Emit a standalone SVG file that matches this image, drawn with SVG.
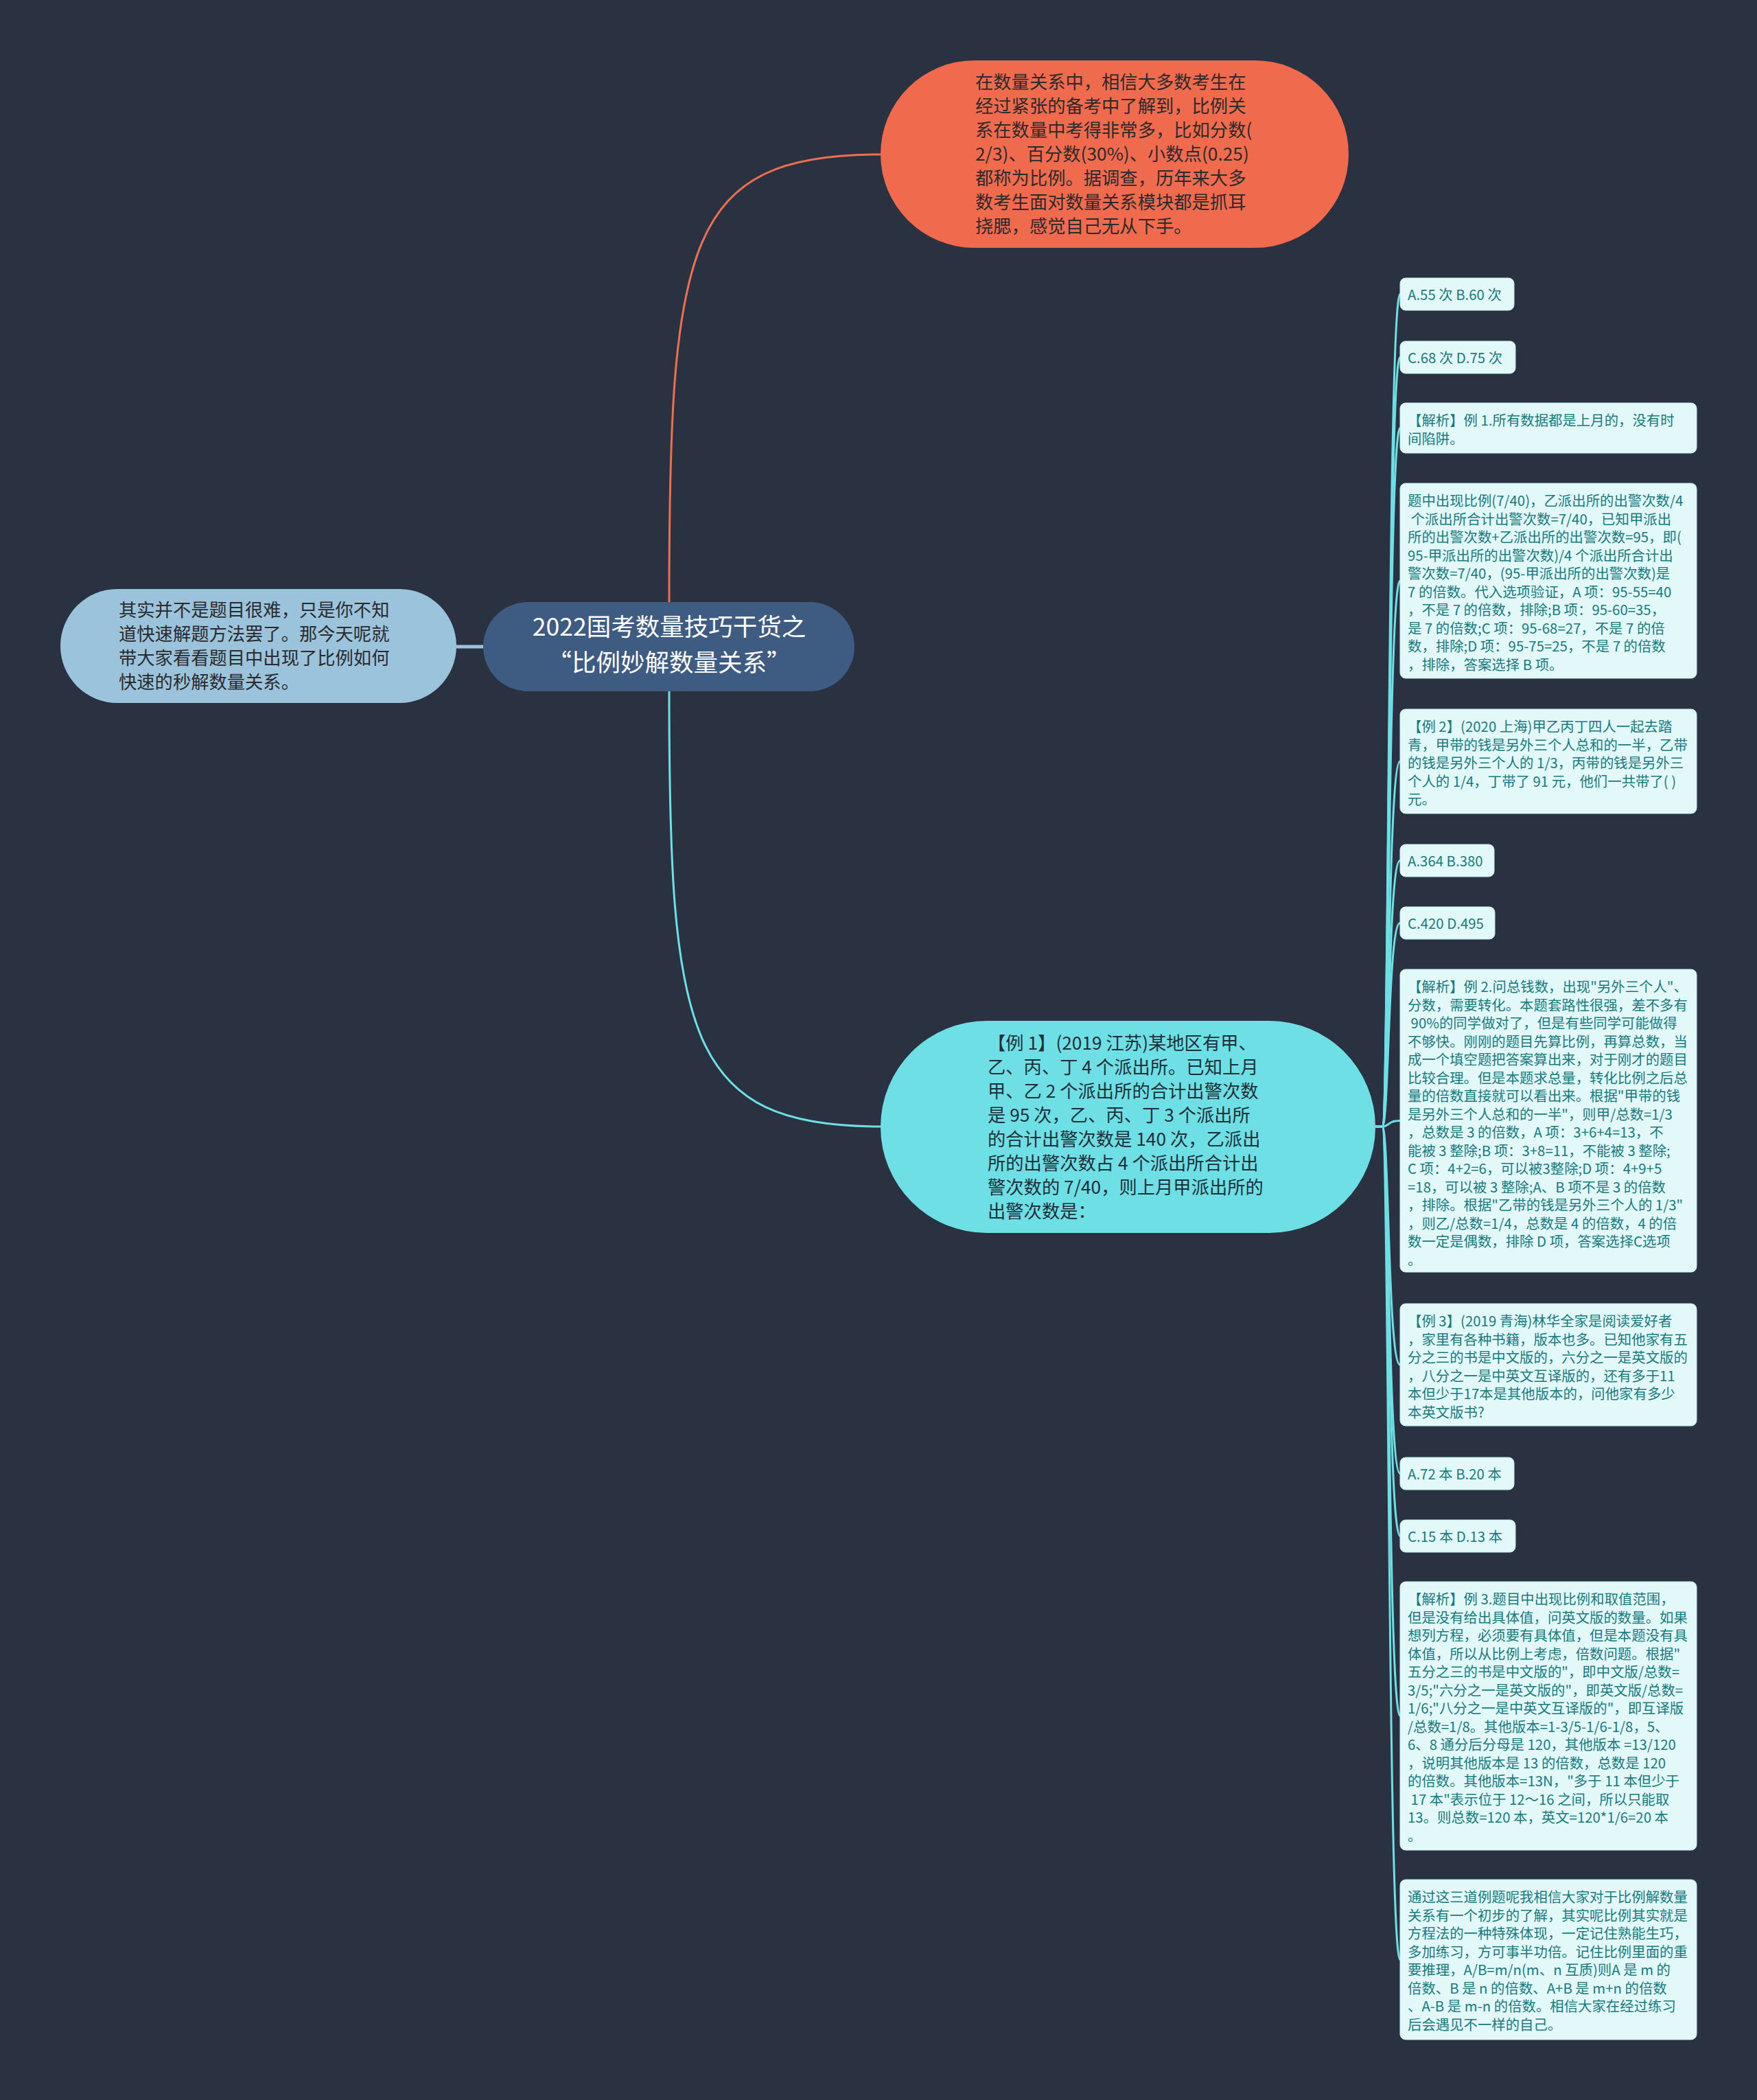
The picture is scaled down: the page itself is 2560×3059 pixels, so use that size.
<svg xmlns="http://www.w3.org/2000/svg" width="2560" height="3059" viewBox="0 0 2560 3059">
<style>
text{font-family:"Noto Sans CJK SC","Microsoft YaHei","Noto Sans",sans-serif}
.big{font-size:26.3px}
.dark{fill:#2b2a2c}
.leaf rect{fill:#e2f8f9;stroke:#c4eef1;stroke-width:1}
.leaf text{font-size:20.4px;fill:#177b7e}
.lk{fill:none;stroke:#6ddfe5;stroke-width:3}
</style>
<rect x="0" y="0" width="2560" height="3059" fill="#2a3241"/>
<g id="connectors">
<path d="M975,877 C975,350 1000,225 1283,225" fill="none" stroke="#ea7050" stroke-width="3"/>
<path d="M975,1007 C975,1510 1000,1641 1283,1641" fill="none" stroke="#6ddfe5" stroke-width="3"/>
<path d="M665,942 L704,942" fill="none" stroke="#9bc3dc" stroke-width="5"/>
<path class="lk" d="M2004,1641 L2014,1641 C2024,1641 2022,428.5 2040,428.5"/>
<path class="lk" d="M2004,1641 L2014,1641 C2024,1641 2022,520.5 2040,520.5"/>
<path class="lk" d="M2004,1641 L2014,1641 C2024,1641 2022,623.5 2040,623.5"/>
<path class="lk" d="M2004,1641 L2014,1641 C2024,1641 2022,846 2040,846"/>
<path class="lk" d="M2004,1641 L2014,1641 C2024,1641 2022,1109 2040,1109"/>
<path class="lk" d="M2004,1641 L2014,1641 C2024,1641 2022,1253.5 2040,1253.5"/>
<path class="lk" d="M2004,1641 L2014,1641 C2024,1641 2022,1344.5 2040,1344.5"/>
<path class="lk" d="M2004,1641 L2014,1641 C2024,1641 2022,1632.5 2040,1632.5"/>
<path class="lk" d="M2004,1641 L2014,1641 C2024,1641 2022,1988 2040,1988"/>
<path class="lk" d="M2004,1641 L2014,1641 C2024,1641 2022,2146.5 2040,2146.5"/>
<path class="lk" d="M2004,1641 L2014,1641 C2024,1641 2022,2237.5 2040,2237.5"/>
<path class="lk" d="M2004,1641 L2014,1641 C2024,1641 2022,2499.5 2040,2499.5"/>
<path class="lk" d="M2004,1641 L2014,1641 C2024,1641 2022,2854.5 2040,2854.5"/>
</g>
<g id="center">
<rect x="704" y="877" width="541" height="130" rx="65" fill="#3e5b82"/>
<text font-size="35.5" fill="#ffffff" text-anchor="middle"><tspan x="975" y="926">2022国考数量技巧干货之</tspan><tspan x="975" y="978">“比例妙解数量关系”</tspan></text>
</g>
<g id="intro">
<rect x="1283" y="88" width="682" height="273" rx="136.5" fill="#f06b4d"/>
<text class="big dark"><tspan x="1421" y="129">在数量关系中，相信大多数考生在</tspan><tspan x="1421" y="164">经过紧张的备考中了解到，比例关</tspan><tspan x="1421" y="199">系在数量中考得非常多，比如分数(</tspan><tspan x="1421" y="234">2/3)、百分数(30%)、小数点(0.25)</tspan><tspan x="1421" y="269">都称为比例。据调查，历年来大多</tspan><tspan x="1421" y="304">数考生面对数量关系模块都是抓耳</tspan><tspan x="1421" y="339">挠腮，感觉自己无从下手。</tspan></text>
</g>
<g id="left">
<rect x="88" y="858" width="577" height="166" rx="83" fill="#9bc3dc"/>
<text class="big dark"><tspan x="173" y="898">其实并不是题目很难，只是你不知</tspan><tspan x="173" y="933">道快速解题方法罢了。那今天呢就</tspan><tspan x="173" y="968">带大家看看题目中出现了比例如何</tspan><tspan x="173" y="1003">快速的秒解数量关系。</tspan></text>
</g>
<g id="example1">
<rect x="1283" y="1487" width="721" height="309" rx="154.5" fill="#6ddfe5"/>
<text class="big" fill="#1d2f38"><tspan x="1439" y="1529">【例 1】(2019 江苏)某地区有甲、</tspan><tspan x="1439" y="1564">乙、丙、丁 4 个派出所。已知上月</tspan><tspan x="1439" y="1599">甲、乙 2 个派出所的合计出警次数</tspan><tspan x="1439" y="1634">是 95 次，乙、丙、丁 3 个派出所</tspan><tspan x="1439" y="1669">的合计出警次数是 140 次，乙派出</tspan><tspan x="1439" y="1704">所的出警次数占 4 个派出所合计出</tspan><tspan x="1439" y="1739">警次数的 7/40，则上月甲派出所的</tspan><tspan x="1439" y="1774">出警次数是：</tspan></text>
</g>
<g id="leaf1" class="leaf">
<rect x="2040" y="405" width="166" height="47" rx="8"/>
<text x="2051" y="437">A.55 次 B.60 次</text>
</g>
<g id="leaf2" class="leaf">
<rect x="2040" y="497" width="168" height="47" rx="8"/>
<text x="2051" y="529">C.68 次 D.75 次</text>
</g>
<g id="leaf3" class="leaf">
<rect x="2040" y="587" width="432" height="73" rx="8"/>
<text><tspan x="2051" y="620">【解析】例 1.所有数据都是上月的，没有时</tspan><tspan x="2051" y="646.5">间陷阱。</tspan></text>
</g>
<g id="leaf4" class="leaf">
<rect x="2040" y="704" width="432" height="284" rx="8"/>
<text xml:space="preserve"><tspan x="2051" y="737">题中出现比例(7/40)，乙派出所的出警次数/4</tspan><tspan x="2051" y="763.5"> 个派出所合计出警次数=7/40，已知甲派出</tspan><tspan x="2051" y="790">所的出警次数+乙派出所的出警次数=95，即(</tspan><tspan x="2051" y="816.5">95-甲派出所的出警次数)/4 个派出所合计出</tspan><tspan x="2051" y="843">警次数=7/40，(95-甲派出所的出警次数)是</tspan><tspan x="2051" y="869.5">7 的倍数。代入选项验证，A 项：95-55=40</tspan><tspan x="2051" y="896">，不是 7 的倍数，排除;B 项：95-60=35，</tspan><tspan x="2051" y="922.5">是 7 的倍数;C 项：95-68=27，不是 7 的倍</tspan><tspan x="2051" y="949">数，排除;D 项：95-75=25，不是 7 的倍数</tspan><tspan x="2051" y="975.5">，排除，答案选择 B 项。</tspan></text>
</g>
<g id="leaf5" class="leaf">
<rect x="2040" y="1033" width="432" height="152" rx="8"/>
<text><tspan x="2051" y="1066">【例 2】(2020 上海)甲乙丙丁四人一起去踏</tspan><tspan x="2051" y="1092.5">青，甲带的钱是另外三个人总和的一半，乙带</tspan><tspan x="2051" y="1119">的钱是另外三个人的 1/3，丙带的钱是另外三</tspan><tspan x="2051" y="1145.5">个人的 1/4，丁带了 91 元，他们一共带了( )</tspan><tspan x="2051" y="1172">元。</tspan></text>
</g>
<g id="leaf6" class="leaf">
<rect x="2040" y="1230" width="137" height="47" rx="8"/>
<text x="2051" y="1262">A.364 B.380</text>
</g>
<g id="leaf7" class="leaf">
<rect x="2040" y="1321" width="138" height="47" rx="8"/>
<text x="2051" y="1353">C.420 D.495</text>
</g>
<g id="leaf8" class="leaf">
<rect x="2040" y="1412" width="432" height="441" rx="8"/>
<text xml:space="preserve"><tspan x="2051" y="1445">【解析】例 2.问总钱数，出现"另外三个人"、</tspan><tspan x="2051" y="1471.5">分数，需要转化。本题套路性很强，差不多有</tspan><tspan x="2051" y="1498"> 90%的同学做对了，但是有些同学可能做得</tspan><tspan x="2051" y="1524.5">不够快。刚刚的题目先算比例，再算总数，当</tspan><tspan x="2051" y="1551">成一个填空题把答案算出来，对于刚才的题目</tspan><tspan x="2051" y="1577.5">比较合理。但是本题求总量，转化比例之后总</tspan><tspan x="2051" y="1604">量的倍数直接就可以看出来。根据"甲带的钱</tspan><tspan x="2051" y="1630.5">是另外三个人总和的一半"，则甲/总数=1/3</tspan><tspan x="2051" y="1657">，总数是 3 的倍数，A 项：3+6+4=13，不</tspan><tspan x="2051" y="1683.5">能被 3 整除;B 项：3+8=11，不能被 3 整除;</tspan><tspan x="2051" y="1710">C 项：4+2=6，可以被3整除;D 项：4+9+5</tspan><tspan x="2051" y="1736.5">=18，可以被 3 整除;A、B 项不是 3 的倍数</tspan><tspan x="2051" y="1763">，排除。根据"乙带的钱是另外三个人的 1/3"</tspan><tspan x="2051" y="1789.5">，则乙/总数=1/4，总数是 4 的倍数，4 的倍</tspan><tspan x="2051" y="1816">数一定是偶数，排除 D 项，答案选择C选项</tspan><tspan x="2051" y="1842.5">。</tspan></text>
</g>
<g id="leaf9" class="leaf">
<rect x="2040" y="1899" width="432" height="178" rx="8"/>
<text><tspan x="2051" y="1932">【例 3】(2019 青海)林华全家是阅读爱好者</tspan><tspan x="2051" y="1958.5">，家里有各种书籍，版本也多。已知他家有五</tspan><tspan x="2051" y="1985">分之三的书是中文版的，六分之一是英文版的</tspan><tspan x="2051" y="2011.5">，八分之一是中英文互译版的，还有多于11</tspan><tspan x="2051" y="2038">本但少于17本是其他版本的，问他家有多少</tspan><tspan x="2051" y="2064.5">本英文版书?</tspan></text>
</g>
<g id="leaf10" class="leaf">
<rect x="2040" y="2123" width="166" height="47" rx="8"/>
<text x="2051" y="2155">A.72 本 B.20 本</text>
</g>
<g id="leaf11" class="leaf">
<rect x="2040" y="2214" width="168" height="47" rx="8"/>
<text x="2051" y="2246">C.15 本 D.13 本</text>
</g>
<g id="leaf12" class="leaf">
<rect x="2040" y="2304" width="432" height="391" rx="8"/>
<text xml:space="preserve"><tspan x="2051" y="2337">【解析】例 3.题目中出现比例和取值范围，</tspan><tspan x="2051" y="2363.5">但是没有给出具体值，问英文版的数量。如果</tspan><tspan x="2051" y="2390">想列方程，必须要有具体值，但是本题没有具</tspan><tspan x="2051" y="2416.5">体值，所以从比例上考虑，倍数问题。根据"</tspan><tspan x="2051" y="2443">五分之三的书是中文版的"，即中文版/总数=</tspan><tspan x="2051" y="2469.5">3/5;"六分之一是英文版的"，即英文版/总数=</tspan><tspan x="2051" y="2496">1/6;"八分之一是中英文互译版的"，即互译版</tspan><tspan x="2051" y="2522.5">/总数=1/8。其他版本=1-3/5-1/6-1/8，5、</tspan><tspan x="2051" y="2549">6、8 通分后分母是 120，其他版本 =13/120</tspan><tspan x="2051" y="2575.5">，说明其他版本是 13 的倍数，总数是 120</tspan><tspan x="2051" y="2602">的倍数。其他版本=13N，"多于 11 本但少于</tspan><tspan x="2051" y="2628.5"> 17 本"表示位于 12～16 之间，所以只能取</tspan><tspan x="2051" y="2655">13。则总数=120 本，英文=120*1/6=20 本</tspan><tspan x="2051" y="2681.5">。</tspan></text>
</g>
<g id="leaf13" class="leaf">
<rect x="2040" y="2738" width="432" height="233" rx="8"/>
<text><tspan x="2051" y="2771">通过这三道例题呢我相信大家对于比例解数量</tspan><tspan x="2051" y="2797.5">关系有一个初步的了解，其实呢比例其实就是</tspan><tspan x="2051" y="2824">方程法的一种特殊体现，一定记住熟能生巧，</tspan><tspan x="2051" y="2850.5">多加练习，方可事半功倍。记住比例里面的重</tspan><tspan x="2051" y="2877">要推理，A/B=m/n(m、n 互质)则A 是 m 的</tspan><tspan x="2051" y="2903.5">倍数、B 是 n 的倍数、A+B 是 m+n 的倍数</tspan><tspan x="2051" y="2930">、A-B 是 m-n 的倍数。相信大家在经过练习</tspan><tspan x="2051" y="2956.5">后会遇见不一样的自己。</tspan></text>
</g>
</svg>
